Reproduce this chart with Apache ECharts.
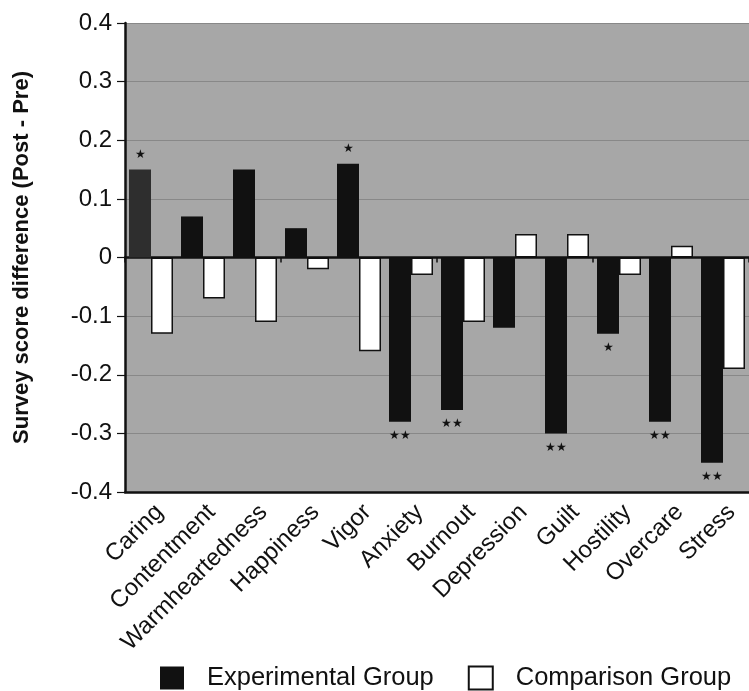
<!DOCTYPE html>
<html><head><meta charset="utf-8">
<script src="https://cdn.jsdelivr.net/npm/echarts@6/dist/echarts.min.js"></script>
<style>html,body{margin:0;padding:0;background:#fff}#c{width:749px;height:691px}</style>
</head><body><div id="c"></div>
<script>
const categories = ['Caring','Contentment','Warmheartedness','Happiness','Vigor','Anxiety','Burnout','Depression','Guilt','Hostility','Overcare','Stress'];
const experimental = [0.15, 0.07, 0.15, 0.05, 0.16, -0.28, -0.26, -0.12, -0.30, -0.13, -0.28, -0.35];
const comparison = [-0.13, -0.07, -0.11, -0.02, -0.16, -0.03, -0.11, 0.04, 0.04, -0.03, 0.02, -0.19];
const significance = ['*', '', '', '', '*', '**', '**', '', '**', '*', '**', '**'];
const yTicks = [-0.4, -0.3, -0.2, -0.1, 0, 0.1, 0.2, 0.3, 0.4];

const font = 'Liberation Sans, Arial, Helvetica, sans-serif';
const expData = experimental.map((v, i) => ({
  value: v,
  itemStyle: i === 0 ? {color: '#2e2e2e'} : undefined,
  label: {
    show: significance[i] !== '',
    formatter: significance[i].replace(/\*/g, '★'),
    position: v >= 0 ? 'top' : 'bottom',
    distance: v >= 0 ? 9 : 8,
    fontSize: 12,
    color: '#111',
    fontFamily: font
  }
}));

const chart = echarts.init(document.getElementById('c'), null, {renderer: 'canvas'});
chart.setOption({
  animation: false,
  backgroundColor: '#fff',
  grid: {left: 125, right: -1, top: 23, bottom: 199, show: true, backgroundColor: '#a7a7a7', borderWidth: 0},
  legend: {
    top: 660, left: 155,
    icon: 'rect',
    itemWidth: 24, itemHeight: 23, itemGap: 34,
    textStyle: {fontSize: 25.5, fontFamily: font, color: '#111', padding: [0, 0, 0, 18]},
    data: [
      {name: 'Experimental Group', itemStyle: {color: '#111', borderWidth: 0}},
      {name: 'Comparison Group', itemStyle: {color: '#fff', borderColor: '#111', borderWidth: 2}}
    ]
  },
  xAxis: [{
    type: 'category', data: categories,
    axisLine: {onZero: false, lineStyle: {color: '#111', width: 2.5}},
    axisTick: {show: false},
    axisLabel: {rotate: 45, fontSize: 24, fontFamily: font, color: '#111', margin: 8, interval: 0,
      align: 'right', verticalAlign: 'top'}
  }, {
    type: 'category', data: categories, position: 'bottom',
    axisLine: {onZero: true, lineStyle: {color: '#111', width: 2.5}},
    axisTick: {show: true, length: 5, inside: false, lineStyle: {color: '#111', width: 1.5}},
    axisLabel: {show: false}
  }],
  yAxis: {
    type: 'value', min: -0.4, max: 0.4, interval: 0.1,
    name: 'Survey score difference (Post - Pre)',
    nameLocation: 'middle', nameGap: 92, nameRotate: 90,
    nameTextStyle: {fontSize: 22, fontWeight: 'bold', fontFamily: font, color: '#111'},
    axisLine: {show: true, lineStyle: {color: '#111', width: 2.5}},
    axisTick: {show: true, length: 8, lineStyle: {color: '#111', width: 1.2}},
    axisLabel: {fontSize: 24, fontFamily: font, color: '#111', margin: 13,
      formatter: v => { const t = yTicks.find(x => Math.abs(x - v) < 1e-9); return t === undefined ? '' : (t === 0 ? '0' : t.toFixed(1)); }},
    splitLine: {show: true, lineStyle: {color: '#888', width: 1}}
  },
  series: [{
    name: 'Experimental Group', type: 'bar', data: expData,
    barWidth: 22, barGap: '0%',
    itemStyle: {color: '#111'}
  }, {
    name: 'Comparison Group', type: 'bar', data: comparison,
    barWidth: 22,
    itemStyle: {color: '#fff', borderColor: '#111', borderWidth: 1.5}
  }]
});
</script></body></html>
